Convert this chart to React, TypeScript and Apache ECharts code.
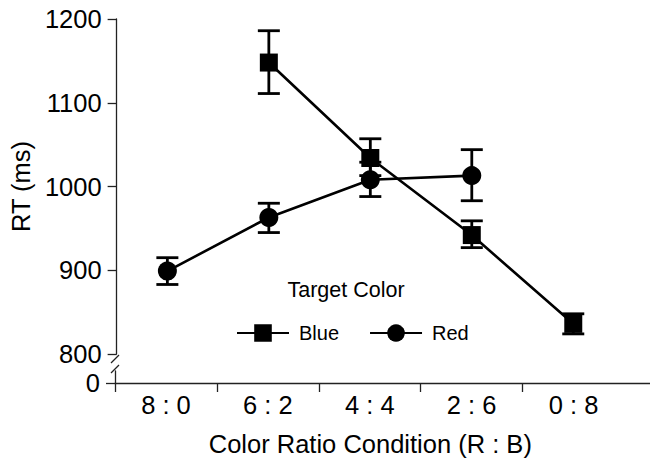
import React, { useEffect, useRef } from "react";
import * as echarts from "echarts";

const categories = ["8 : 0", "6 : 2", "4 : 4", "2 : 6", "0 : 8"];
const blueMeans: (number | null)[] = [null, 1148, 1034, 942, 836];
const blueLow: (number | null)[] = [null, 1111, 1013, 927, 824];
const blueHigh: (number | null)[] = [null, 1186, 1057, 959, 848];
const redMeans: (number | null)[] = [899, 963, 1008, 1013, null];
const redLow: (number | null)[] = [883, 945, 988, 983, null];
const redHigh: (number | null)[] = [915, 980, 1029, 1044, null];
const yTicks = [800, 900, 1000, 1100, 1200];

const FONT = "'Liberation Sans', Arial, Helvetica, sans-serif";
const AX_FONT = 25.5;

function errData(low: (number | null)[], high: (number | null)[]) {
  const out: number[][] = [];
  low.forEach((l, i) => {
    const h = high[i];
    if (l != null && h != null) out.push([i, l, h]);
  });
  return out;
}

const renderErr = (params: any, api: any) => {
  const x = api.value(0);
  const lo = api.value(1);
  const hi = api.value(2);
  const top = api.coord([x, hi]);
  const bot = api.coord([x, lo]);
  const hw = 11;
  const st = { stroke: "#000", lineWidth: 2.8 };
  return {
    type: "group",
    children: [
      { type: "line", shape: { x1: top[0], y1: top[1], x2: bot[0], y2: bot[1] }, style: st },
      { type: "line", shape: { x1: top[0] - hw, y1: top[1], x2: top[0] + hw, y2: top[1] }, style: st },
      { type: "line", shape: { x1: bot[0] - hw, y1: bot[1], x2: bot[0] + hw, y2: bot[1] }, style: st },
    ],
  };
};

export default function App() {
  const ref = useRef<HTMLDivElement>(null);
  useEffect(() => {
    if (!ref.current) return;
    const chart = echarts.init(ref.current, null, { renderer: "svg" });
    const axisColor = "#222";
    const bandTicks = categories.map((_, i) => i);
    const bandCenters = categories.map((_, i) => i + 0.5);
    chart.setOption({
      animation: false,
      backgroundColor: "#fff",
      textStyle: { fontFamily: FONT, color: "#000" },
      grid: [
        { left: 115, top: 19, width: 509, height: 336 },
        { left: 115, top: 371, width: 535, height: 12 },
      ],
      xAxis: [
        {
          type: "category",
          gridIndex: 0,
          data: categories,
          axisLine: { show: false },
          axisTick: { show: false },
          axisLabel: { show: false },
          name: "Color Ratio Condition (R : B)",
          nameLocation: "middle",
          nameGap: 77,
          nameTextStyle: { fontSize: AX_FONT, color: "#000", fontFamily: FONT },
        },
        {
          type: "value",
          gridIndex: 1,
          min: 0,
          max: 5.25,
          splitLine: { show: false },
          axisLine: { show: true, lineStyle: { color: axisColor, width: 1.3 } },
          axisTick: {
            show: true,
            length: 9,
            customValues: bandTicks,
            lineStyle: { color: axisColor, width: 1.3 },
          },
          axisLabel: {
            fontSize: AX_FONT,
            color: "#000",
            margin: 9,
            fontFamily: FONT,
            customValues: bandCenters,
            formatter: (v: number) => categories[Math.floor(v)] ?? "",
          },
        },
      ],
      yAxis: [
        {
          type: "value",
          gridIndex: 0,
          min: 800,
          max: 1200,
          interval: 100,
          splitLine: { show: false },
          axisLine: { show: true, lineStyle: { color: axisColor, width: 1.3 } },
          axisTick: { show: true, length: 9, lineStyle: { color: axisColor, width: 1.3 } },
          axisLabel: {
            fontSize: AX_FONT,
            color: "#000",
            margin: 15,
            fontFamily: FONT,
            customValues: yTicks,
            formatter: (v: number) => String(v),
          },
          name: "RT (ms)",
          nameLocation: "middle",
          nameGap: 80,
          nameTextStyle: { fontSize: AX_FONT, color: "#000", fontFamily: FONT },
        },
        {
          type: "value",
          gridIndex: 1,
          min: 0,
          max: 1,
          splitLine: { show: false },
          axisLine: { show: true, lineStyle: { color: axisColor, width: 1.3 } },
          axisTick: { show: true, length: 9, customValues: [0], lineStyle: { color: axisColor, width: 1.3 } },
          axisLabel: {
            fontSize: AX_FONT,
            color: "#000",
            margin: 15,
            fontFamily: FONT,
            customValues: [0],
            formatter: (v: number) => String(v),
          },
        },
      ],
      legend: {
        data: ["Blue", "Red"],
        left: 231,
        top: 318,
        itemWidth: 52,
        itemHeight: 22,
        itemGap: 30,
        textStyle: { fontSize: 20, color: "#000", fontFamily: FONT, padding: [0, 0, 0, 5] },
      },
      graphic: [
        {
          type: "text",
          x: 346,
          y: 290,
          style: {
            text: "Target Color",
            fontSize: 21.5,
            fontFamily: FONT,
            fill: "#000",
            textAlign: "center",
            textVerticalAlign: "middle",
          },
        },
        {
          type: "line",
          shape: { x1: 111, y1: 363, x2: 119, y2: 355 },
          style: { stroke: axisColor, lineWidth: 1.3 },
        },
        {
          type: "line",
          shape: { x1: 111, y1: 373, x2: 119, y2: 365 },
          style: { stroke: axisColor, lineWidth: 1.3 },
        },
      ],
      series: [
        {
          type: "custom",
          xAxisIndex: 0,
          yAxisIndex: 0,
          renderItem: renderErr,
          encode: { x: 0, y: [1, 2] },
          data: errData(blueLow, blueHigh),
          z: 1,
        },
        {
          type: "custom",
          xAxisIndex: 0,
          yAxisIndex: 0,
          renderItem: renderErr,
          encode: { x: 0, y: [1, 2] },
          data: errData(redLow, redHigh),
          z: 1,
        },
        {
          name: "Blue",
          type: "line",
          xAxisIndex: 0,
          yAxisIndex: 0,
          data: blueMeans,
          symbol: "rect",
          symbolSize: 18,
          lineStyle: { color: "#000", width: 2.6 },
          itemStyle: { color: "#000" },
          z: 3,
        },
        {
          name: "Red",
          type: "line",
          xAxisIndex: 0,
          yAxisIndex: 0,
          data: redMeans,
          symbol: "circle",
          symbolSize: 19,
          lineStyle: { color: "#000", width: 2.6 },
          itemStyle: { color: "#000" },
          z: 3,
        },
      ],
    });
    return () => chart.dispose();
  }, []);
  return (
    <div
      ref={ref}
      style={{ position: "fixed", left: 0, top: 0, width: 650, height: 462, background: "#fff" }}
    />
  );
}
